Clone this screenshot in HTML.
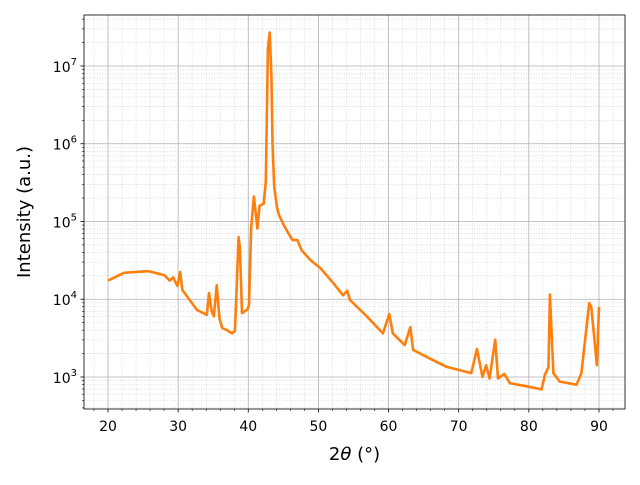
<!DOCTYPE html>
<html><head><meta charset="utf-8"><style>
body{margin:0;background:#fff;}
svg text{font-family:"DejaVu Sans","Liberation Sans",sans-serif;}
</style></head><body>
<svg id="chart" width="640" height="480" xmlns="http://www.w3.org/2000/svg">
<g id="grid"></g>
<g id="series"></g>
<rect x="84" y="15" width="541" height="394" fill="none" stroke="#000" stroke-width="0.8"/>
<g id="axes"></g>
<text x="354.5" y="460" font-size="18" text-anchor="middle">2<tspan font-style="italic">θ</tspan> (°)</text>
<text transform="translate(30,212) rotate(-90)" font-size="18" text-anchor="middle">Intensity (a.u.)</text>
</svg>
<script>
const twoTheta=[20,22.3,25.8,28,28.8,29.3,29.9,30.3,30.6,32.7,34.1,34.4,34.8,35.1,35.5,35.9,36.3,37,37.7,38.1,38.3,38.6,38.8,39.1,39.9,40.1,40.4,40.8,41.3,41.6,42.2,42.5,42.8,43.05,43.3,43.45,43.7,44.1,44.4,45.1,45.7,46.3,47,47.6,48.9,50.3,52.2,53.5,54.1,54.5,56.9,59.2,60.1,60.6,62.3,63.1,63.5,65.4,68.3,71.8,72.6,73.4,73.9,74.4,75.2,75.6,76.5,77.3,79.7,81.8,82.3,82.8,83.0,83.5,84.4,86.8,87.5,88.6,88.9,89.7,90.0];
const logIntensity=[4.24,4.34,4.36,4.31,4.24,4.28,4.17,4.35,4.12,3.86,3.80,4.08,3.84,3.78,4.18,3.75,3.63,3.60,3.56,3.59,4.01,4.80,4.66,3.82,3.87,3.93,4.91,5.32,4.91,5.20,5.23,5.51,7.23,7.43,6.88,6.0,5.45,5.18,5.08,4.95,4.85,4.76,4.76,4.63,4.50,4.40,4.20,4.05,4.11,3.99,3.78,3.56,3.81,3.56,3.41,3.64,3.35,3.26,3.13,3.05,3.36,3.00,3.15,2.98,3.48,2.98,3.04,2.92,2.88,2.84,3.03,3.13,4.06,3.05,2.94,2.90,3.05,3.95,3.90,3.15,3.90];
const xTicks=[20,30,40,50,60,70,80,90];
const yDecades=[3,4,5,6,7];
const NS="http://www.w3.org/2000/svg";
const X0=84,X1=625,Y0=409,Y1=15;
const xMin=16.58,xMax=93.71,yMin=2.588,yMax=7.656;
const sx=v=>X0+(v-xMin)/(xMax-xMin)*(X1-X0);
const sy=l=>Y0-(l-yMin)/(yMax-yMin)*(Y0-Y1);
function mk(tag,attrs,parent){const e=document.createElementNS(NS,tag);for(const k in attrs)e.setAttribute(k,attrs[k]);parent.appendChild(e);return e;}
const grid=document.getElementById('grid'),axes=document.getElementById('axes'),series=document.getElementById('series');
for(let v=18;v<=92;v+=2){if(v%10===0)continue;const x=sx(v);
const l=mk('line',{x1:x,x2:x,y1:Y1,y2:Y0,stroke:'#c8c8c8','stroke-width':0.6,'stroke-dasharray':'1,1.6'},grid);

const t=mk('line',{x1:x,x2:x,y1:Y0,y2:Y0+2,stroke:'#000','stroke-width':0.6},axes);
}
for(let d=2;d<=7;d++){for(let m=2;m<=9;m++){const l=d+Math.log10(m);if(l<yMin||l>yMax)continue;const y=sy(l);
const g=mk('line',{x1:X0,x2:X1,y1:y,y2:y,stroke:'#c8c8c8','stroke-width':0.6,'stroke-dasharray':'1,1.6'},grid);

const t=mk('line',{x1:X0-2,x2:X0,y1:y,y2:y,stroke:'#000','stroke-width':0.6},axes);
}}
xTicks.forEach(v=>{const x=sx(v);
const g=mk('line',{x1:x,x2:x,y1:Y1,y2:Y0,stroke:'#b0b0b0','stroke-width':0.8},grid);

const t=mk('line',{x1:x,x2:x,y1:Y0,y2:Y0+3.5,stroke:'#000','stroke-width':0.8},axes);

const tx=mk('text',{x:x,y:Y0+22,'font-size':14,'text-anchor':'middle'},axes);tx.textContent=v;
});
yDecades.forEach(d=>{const y=sy(d);
const g=mk('line',{x1:X0,x2:X1,y1:y,y2:y,stroke:'#b0b0b0','stroke-width':0.8},grid);

const t=mk('line',{x1:X0-3.5,x2:X0,y1:y,y2:y,stroke:'#000','stroke-width':0.8},axes);

const tx=mk('text',{x:X0-7,y:y+6,'font-size':14,'text-anchor':'end'},axes);

tx.textContent='10';const sp=mk('tspan',{dy:-7,'font-size':10},tx);sp.textContent=d;});
const pts=twoTheta.map((v,i)=>sx(v).toFixed(1)+','+sy(logIntensity[i]).toFixed(1)).join(' ');
const pl=mk('polyline',{points:pts,fill:'none',stroke:'#ff7f0e','stroke-width':2.6,'stroke-linejoin':'round'},series);

</script>
</body></html>
